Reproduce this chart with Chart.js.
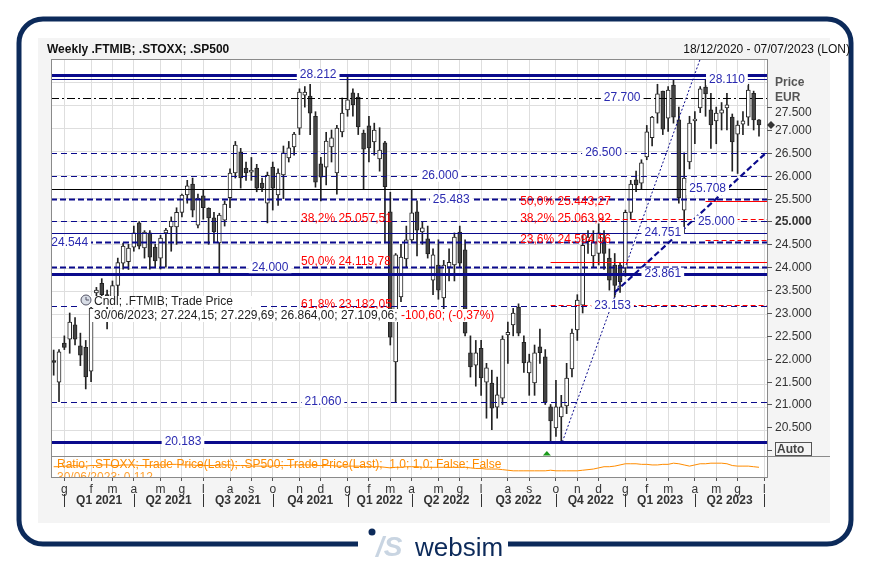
<!DOCTYPE html>
<html><head><meta charset="utf-8">
<script src="https://cdn.jsdelivr.net/npm/chart.js@4.4.0/dist/chart.umd.min.js"></script>
<style>html,body{margin:0;padding:0;background:#fff}canvas{display:block}</style>
</head><body>
<canvas id="c" width="869" height="563"></canvas>
<script>
// ---- DATA ----
const startDate = [2020, 11, 18]; // 18/12/2020, weekly
const weekCount = 134;
const opens = [21960,21490,22340,22430,22740,22280,22250,21730,23440,23650,23400,23300,23600,24090,24120,24440,24970,24420,24750,24440,24200,24750,24880,24880,25200,25580,25820,24920,25560,25290,25080,24530,25030,25520,26060,26520,26170,26080,26170,25840,25400,26190,25580,26020,26390,26630,27040,27760,27740,27300,26260,26190,26630,26060,26960,27440,27810,27720,26930,27090,26740,26370,26720,25210,21930,23350,24180,24600,25210,24770,24620,23720,24050,23330,24000,24050,24770,24380,22130,21860,22230,21490,21470,20940,21140,22520,22740,23130,22360,21690,21470,22260,22040,20950,20490,20730,20970,21780,22630,23170,24560,24250,24300,24600,24200,24050,24050,23980,25200,25910,25840,26410,26830,27370,27850,27260,27980,27220,25250,26300,27200,27480,27940,27440,27200,27370,27480,27280,26910,27130,27280,27800,27224];
const highs = [22190,22200,22500,23000,22900,22560,22400,23300,23560,23750,23500,23700,24200,24530,24500,24900,25000,24800,24800,24500,24700,24850,25100,25300,25600,25900,25950,25600,25700,25300,25200,25180,25450,26150,26750,26600,26300,26400,26250,25950,26080,26300,26150,26650,26750,26950,27900,27950,28000,27400,26400,26950,27000,27100,27700,28212,27900,27800,27000,27300,27150,27050,26750,25640,24300,24500,24900,25700,25450,25000,24900,24400,24600,24150,24400,24750,24900,24600,22500,22400,22400,21900,21750,21600,22500,22800,23100,23200,22500,22100,22300,22650,22200,21000,21530,21200,21900,22650,23400,24700,24800,24800,24950,24800,24400,24300,24100,25250,25900,26100,26350,27100,27300,28000,27850,27950,28100,27500,26500,27300,27400,27950,28110,27800,27500,27600,27800,27350,27200,27400,28000,27850,27230];
const lows = [21640,21060,22200,22120,22300,21850,21340,21500,23300,23300,22650,23200,23200,23960,23950,24350,24400,24200,23960,24000,23960,24000,24350,24500,25100,25400,25100,24860,25050,24500,24550,23850,24900,25300,25950,25730,25900,25900,25650,25650,24970,25250,25350,25500,26300,26450,26900,27500,26900,25750,25450,25800,26300,25600,26850,27300,27300,26900,25700,26300,26450,26100,24530,22300,21060,23250,24000,24550,24250,24500,24200,23400,23300,23050,23700,23700,24000,22500,21600,21400,21200,20700,20450,20700,21000,21900,22500,22500,21700,21200,21200,21900,21000,20183,20300,20183,20800,21600,22400,23000,24300,24000,24050,23950,23500,23350,23450,23800,25050,25650,25700,26350,26650,27150,26900,26970,27150,25400,24751,26150,26700,27380,27300,26600,26700,27000,27000,26100,26050,26900,27100,27000,26864];
const closes = [21920,22150,22250,22800,22430,22080,21600,23110,23500,23400,23300,23600,24100,24460,24420,24750,24460,24770,24220,24140,24640,24810,25010,25200,25580,25780,25250,25510,25300,25080,24770,25140,25380,26060,26670,25950,26060,26120,25730,25730,26010,25730,26060,26500,26610,26910,27830,27830,27370,25860,25970,26760,26830,27040,27370,27660,27550,27070,26580,26610,27000,26560,25760,22470,24270,24220,24600,25190,24810,24860,24290,24270,23500,24050,24110,24660,24090,22560,21820,22130,21580,21800,20920,21210,22430,22580,23000,22560,21910,21930,22130,22130,21050,20640,20950,20950,21580,22560,23280,24480,24660,24550,24750,24300,23720,23600,23680,25200,25820,25800,26280,26960,27280,27790,27020,27870,27280,25520,25950,27150,27240,27900,27790,27110,27370,27440,27550,26740,27110,27200,27870,27220,27109];
const ratio = [0.113,0.113,0.114,0.114,0.115,0.114,0.114,0.115,0.115,0.116,0.116,0.115,0.115,0.116,0.116,0.116,0.115,0.115,0.115,0.116,
0.116,0.116,0.117,0.117,0.116,0.116,0.116,0.115,0.115,0.115,0.115,0.116,0.116,0.116,0.115,0.115,0.115,0.114,0.114,0.114,
0.114,0.114,0.115,0.115,0.115,0.116,0.116,0.116,0.116,0.115,0.115,0.115,0.115,0.114,0.114,0.114,0.114,0.114,0.113,0.113,
0.113,0.113,0.112,0.111,0.112,0.112,0.113,0.113,0.113,0.112,0.112,0.112,0.112,0.112,0.112,0.112,0.112,0.112,0.111,0.110,
0.110,0.109,0.109,0.109,0.108,0.107,0.106,0.106,0.106,0.106,0.106,0.106,0.106,0.107,0.106,0.106,0.106,0.106,0.106,0.107,
0.108,0.109,0.111,0.113,0.113,0.114,0.116,0.118,0.118,0.118,0.117,0.117,0.116,0.116,0.117,0.117,0.119,0.118,0.116,0.114,
0.116,0.118,0.118,0.119,0.119,0.119,0.118,0.115,0.114,0.114,0.114,0.113,0.112];
const monthLetters = ['g','f','m','a','m','g','l','a','s','o','n','d'];
const yTickValues = [20500,21000,21500,22000,22500,23000,23500,24000,24500,25000,25500,26000,26500,27000,27500];
const yTickLabels = ['20.500','21.000','21.500','22.000','22.500','23.000','23.500','24.000','24.500','25.000','25.500','26.000','26.500','27.000','27.500'];
const levelValues = [28212,28110,27700,26500,26000,25708,25483,25000,24751,24544,24000,23861,23153,21060,20183];
const levelLabelWeek = [49.5,126,106.4,102.9,72.3,122.4,74.4,124,114,3,40.5,114,104.6,50.4,24.2];
const fibValues1 = [25057.51,24119.78,23182.05];
const fibText1 = ['38,2% 25.057,51','50,0% 24.119,78','61,8% 23.182,05'];
const fibValues2 = [25443.27,25063.92,24594.56];
const fibText2 = ['50,0% 25.443,27','38,2% 25.063,92','23,6% 24.594,56'];
const redLineValues = [25443.27,25063.92,24594.56,24119.78,23182.05];
const redLineStartWeek = [122,102,122,93,93];
const trendDotted = [[95.2,20183],[121,28552]];
const trendDashed = [[105,23450],[133.5,26520]];
const lastClose = 27109.06;

const labels = [];
for (let i = 0; i < weekCount; i++) {
  labels.push(new Date(startDate[0], startDate[1], startDate[2] + 7*i));
}
const monthStart = labels.map((d,i)=> i>0 && d.getMonth()!==labels[i-1].getMonth());
const F = 'Liberation Sans, Arial, sans-serif';
const NAVY = '#0a0a8c';
function fmt(v){const s=Math.round(v).toString();return s.length>3? s.slice(0,-3)+'.'+s.slice(-3):s;}

const plugin = {
  id:'deco',
  beforeDraw(ch){
    const c=ch.ctx, a=ch.chartArea;
    c.save();
    c.fillStyle='#fff';c.fillRect(0,0,869,563);
    c.fillStyle='#f4f4f4';c.fillRect(38,38,792,485);
    c.fillStyle='#fff';c.fillRect(a.left,a.top,a.right-a.left,a.bottom-a.top);
    c.strokeStyle='#0c2a5a';c.lineWidth=5;
    const L=19,T=19,R=851,B=544,r=24;
    c.beginPath();
    c.moveTo(358,B);c.lineTo(L+r,B);c.arcTo(L,B,L,B-r,r);c.lineTo(L,T+r);c.arcTo(L,T,L+r,T,r);
    c.lineTo(R-r,T);c.arcTo(R,T,R,T+r,r);c.lineTo(R,B-r);c.arcTo(R,B,R-r,B,r);c.lineTo(508,B);
    c.stroke();
    c.fillStyle='#0c2a5a';c.beginPath();c.arc(372,532,3.5,0,7);c.fill();
    c.fillStyle='#c9d5e2';c.font='italic bold 28px '+F;c.textBaseline='alphabetic';c.fillText('/S',376,556);
    c.fillStyle='#0c2a5a';c.font='26px '+F;c.fillText('websim',415,556);
    c.fillStyle='#111';c.font='bold 12px '+F;c.fillText('Weekly .FTMIB; .STOXX; .SP500',47,53);
    c.font='12px '+F;c.textAlign='right';c.fillText('18/12/2020 - 07/07/2023 (LON)',850,53);
    c.restore();
  },
  afterDatasetsDraw(ch){
    const c=ch.ctx,a=ch.chartArea,x=ch.scales.x,y=ch.scales.y;
    const X=i=>x.getPixelForValue(i), Y=v=>y.getPixelForValue(v);
    c.save();
    c.beginPath();c.rect(a.left,a.top,a.right-a.left,a.bottom-a.top);c.clip();
    const styles=[
      {w:3,d:[],col:NAVY},{w:1.2,d:[],col:NAVY},{w:1,d:[8,3,2,3],col:'#000'},{w:1.2,d:[6,4],col:NAVY},{w:1.2,d:[6,4],col:NAVY},
      {w:1.2,d:[],col:'#000'},{w:2.2,d:[6,3],col:NAVY},{w:1.2,d:[6,4],col:NAVY},{w:1.2,d:[],col:NAVY},{w:2.2,d:[6,3],col:NAVY},
      {w:2.2,d:[6,3],col:NAVY},{w:3,d:[],col:NAVY},{w:1.2,d:[6,4],col:NAVY},{w:1.2,d:[6,4],col:NAVY},{w:3,d:[],col:NAVY}];
    levelValues.forEach((v,i)=>{
      const s=styles[i];c.strokeStyle=s.col;c.lineWidth=s.w;c.setLineDash(s.d);
      const py=Math.round(Y(v))+0.5;
      c.beginPath();c.moveTo(a.left,py);c.lineTo(a.right,py);c.stroke();
    });
    const redDash=[[],[5,3],[5,3],[],[5,3]];
    c.strokeStyle='#ff0000';c.lineWidth=1.2;
    redLineValues.forEach((v,i)=>{
      c.setLineDash(redDash[i]);
      const py=Math.round(Y(v))+0.5;
      c.beginPath();c.moveTo(X(redLineStartWeek[i]),py);c.lineTo(a.right,py);c.stroke();
    });
    c.strokeStyle=NAVY;c.lineWidth=1;c.setLineDash([2,2]);
    c.beginPath();c.moveTo(X(trendDotted[0][0]),Y(trendDotted[0][1]));c.lineTo(X(trendDotted[1][0]),Y(trendDotted[1][1]));c.stroke();
    c.lineWidth=2.2;c.setLineDash([6,3]);
    c.beginPath();c.moveTo(X(trendDashed[0][0]),Y(trendDashed[0][1]));c.lineTo(X(trendDashed[1][0]),Y(trendDashed[1][1]));c.stroke();
    c.setLineDash([]);
    c.font='12px '+F;c.textBaseline='middle';c.textAlign='center';
    levelValues.forEach((v,i)=>{
      const t=fmt(v),w=c.measureText(t).width,px=X(levelLabelWeek[i]),py=Y(v);
      c.fillStyle='#fff';c.fillRect(px-w/2-3,py-6,w+6,12);
      c.fillStyle='#2a2ab0';c.fillText(t,px,py);
    });
    c.textAlign='left';c.fillStyle='#ff0000';
    fibValues1.forEach((v,i)=>c.fillText(fibText1[i],X(46.3),Y(v)));
    fibValues2.forEach((v,i)=>c.fillText(fibText2[i],X(87.3),Y(v)));
    c.fillStyle='#fff';c.fillRect(80,296,178,11);c.fillRect(92,309,383,13);
    c.fillStyle='#222';c.fillText('Cndl; .FTMIB; Trade Price',94,302);
    const t1='30/06/2023; 27.224,15; 27.229,69; 26.864,00; 27.109,06; ';
    c.fillText(t1,94,316);const w1=c.measureText(t1).width;
    c.fillStyle='#ff0000';c.fillText('-100,60; (-0,37%)',94+w1,316);
    c.fillStyle='#d8dde6';c.strokeStyle='#556';c.lineWidth=1;c.beginPath();c.arc(86,300,5,0,7);c.fill();c.stroke();
    c.beginPath();c.moveTo(86,300);c.lineTo(86,297);c.moveTo(86,300);c.lineTo(89,300);c.stroke();
    const paneTop=456;
    c.fillStyle='#ff8c00';c.font='12px '+F;
    c.fillText('Ratio; .STOXX; Trade Price(Last); .SP500; Trade Price(Last);  1,0; 1,0; False; False',57,465);
    c.fillStyle='#ffa030';c.fillText('30/06/2023; 0,112',57,478);
    c.fillStyle='#1a9a1a';const gx=X(92.3);c.beginPath();c.moveTo(gx-4,paneTop-0.5);c.lineTo(gx+4,paneTop-0.5);c.lineTo(gx,paneTop-5);c.fill();
    c.restore();
    c.save();
    c.strokeStyle='#8a8a8a';c.lineWidth=1;
    c.strokeRect(a.left+0.5,a.top+0.5,a.right-a.left,a.bottom-a.top);
    c.beginPath();c.moveTo(a.left,paneTop+0.5);c.lineTo(830,paneTop+0.5);c.stroke();
    c.fillStyle='#333';c.textBaseline='middle';c.textAlign='left';c.strokeStyle='#555';
    yTickValues.forEach((v,i)=>{
      const py=Math.round(Y(v))+0.5;
      c.beginPath();c.moveTo(a.right,py);c.lineTo(a.right+5,py);c.stroke();
      c.font=(v===25000?'bold ':'')+'12px '+F;
      c.fillText(yTickLabels[i],a.right+8,Math.max(py,112.5));
    });
    c.fillStyle='#555';c.font='bold 12px '+F;c.fillText('Price',775,83);c.fillText('EUR',775,98);
    const dy=Y(lastClose);c.fillStyle='#333';c.beginPath();c.moveTo(767,dy);c.lineTo(771,dy-4);c.lineTo(775,dy);c.lineTo(771,dy+4);c.fill();
    c.beginPath();c.moveTo(a.right,450.5);c.lineTo(a.right+5,450.5);c.stroke();
    c.fillStyle='#f4f4f4';c.fillRect(775,442,37,14);
    c.strokeStyle='#555';c.strokeRect(775.5,442.5,36,13);
    c.fillStyle='#444';c.fillText('Auto',777,450);
    c.fillStyle='#333';c.font='bold 12px '+F;c.textAlign='center';
    const qs=[];labels.forEach((d,i)=>{if(monthStart[i]&&d.getMonth()%3===0)qs.push(i);});
    c.strokeStyle='#333';c.lineWidth=1;
    qs.forEach((qi,k)=>{
      const px=Math.round(X(qi))+0.5;c.beginPath();c.moveTo(px,494);c.lineTo(px,507);c.stroke();
      if(k<qs.length-1){const d=labels[qi];c.fillText('Q'+(d.getMonth()/3+1)+' '+d.getFullYear(),(X(qi)+X(qs[k+1]))/2,501);}
    });
    c.restore();
  }
};

const up = opens.map((o,i)=>closes[i]>=o);
new Chart(document.getElementById('c'),{
  data:{labels:labels,datasets:[
    {type:'bar',data:lows.map((l,i)=>[l,highs[i]]),backgroundColor:'#222',barThickness:1,grouped:false,order:3,yAxisID:'y'},
    {type:'bar',data:opens.map((o,i)=>[o,closes[i]]),backgroundColor:up.map(u=>u?'#fff':'#444'),borderColor:'#222',borderWidth:1,borderSkipped:false,barThickness:4,grouped:false,order:2,yAxisID:'y'},
    {type:'line',data:ratio,borderColor:'#ff8c00',borderWidth:1,pointRadius:0,tension:0,yAxisID:'y2',order:1}
  ]},
  options:{
    responsive:false,animation:false,events:[],
    layout:{padding:{left:51,top:59,right:0,bottom:0}},
    plugins:{legend:{display:false},tooltip:{enabled:false}},
    scales:{
      x:{type:'category',offset:true,
        grid:{offset:false,color:'#dedede',tickLength:4,tickColor:'#555'},border:{display:false},
        ticks:{autoSkip:false,maxRotation:0,padding:1,color:'#333',font:{family:F,size:12},
          callback:(v,i)=>monthStart[i]?monthLetters[labels[i].getMonth()]:null},
        afterFit:s=>{s.height=86;}},
      y:{position:'right',min:19415,max:28552,
        grid:{color:ctx=>ctx.tick&&ctx.tick.value<20000?'rgba(0,0,0,0)':'#dedede',drawTicks:false},border:{display:false},
        ticks:{stepSize:500,display:false},
        afterFit:s=>{s.width=102;}},
      y2:{display:false,min:0.0955,max:0.806}
    }
  },
  plugins:[plugin]
});
</script>
</body></html>
